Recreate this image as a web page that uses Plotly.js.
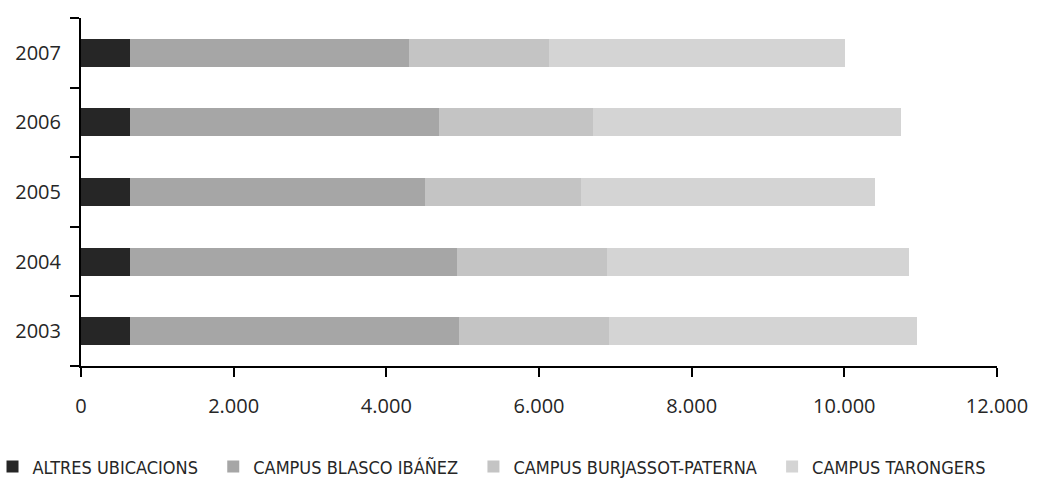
<!DOCTYPE html>
<html>
<head>
<meta charset="utf-8">
<script src="https://cdn.plot.ly/plotly-3.0.1.min.js"></script>
<style>
html,body{margin:0;padding:0;background:#fff;}
#chart{width:1039px;height:479px;}
</style>
</head>
<body>
<div id="chart"></div>
<script>
const years = ['2003', '2004', '2005', '2006', '2007'];
const seriesNames = ['ALTRES UBICACIONS', 'CAMPUS BLASCO IBÁÑEZ', 'CAMPUS BURJASSOT-PATERNA', 'CAMPUS TARONGERS'];
const altres = [640, 640, 640, 640, 640];
const blasco = [4310, 4285, 3865, 4050, 3655];
const burjassot = [1965, 1965, 2045, 2020, 1835];
const tarongers = [4035, 3955, 3850, 4035, 3880];
const xTicks = [0, 2000, 4000, 6000, 8000, 10000, 12000];
const xTickLabels = ['0', '2.000', '4.000', '6.000', '8.000', '10.000', '12.000'];
const colors = ['#262626', '#a6a6a6', '#c4c4c4', '#d4d4d4'];

// trailing non-breaking spaces only widen the gap between legend entries
const legendPads = [2, 2, 2, 0];
const values = [altres, blasco, burjassot, tarongers];
const traces = values.map((v, i) => ({
  type: 'bar',
  orientation: 'h',
  y: years,
  x: v,
  name: seriesNames[i] + '\u00a0'.repeat(legendPads[i]),
  marker: {color: colors[i], line: {width: 0}},
  hoverinfo: 'skip'
}));

const tickFont = {family: 'Open Sans, sans-serif', size: 20, color: '#262626'};

const layout = {
  width: 1039,
  height: 479,
  barmode: 'stack',
  bargap: 0.6,
  margin: {l: 81, r: 42, t: 18, b: 113, autoexpand: false},
  paper_bgcolor: '#ffffff',
  plot_bgcolor: '#ffffff',
  font: {family: 'Open Sans, sans-serif', size: 18, color: '#262626'},
  xaxis: {
    range: [0, 12000],
    tickvals: xTicks,
    ticktext: xTickLabels,
    ticks: 'outside',
    ticklen: 9,
    tickwidth: 2,
    tickcolor: '#000',
    showline: true,
    linecolor: '#000',
    linewidth: 2,
    showgrid: false,
    zeroline: false,
    automargin: false,
    ticklabelstandoff: 12,
    tickfont: tickFont,
    fixedrange: true
  },
  yaxis: {
    type: 'category',
    categoryorder: 'array',
    categoryarray: years,
    ticks: 'outside',
    tickson: 'boundaries',
    ticklen: 9,
    tickwidth: 2,
    tickcolor: '#000',
    showline: true,
    linecolor: '#000',
    linewidth: 2,
    showgrid: false,
    zeroline: false,
    automargin: false,
    ticklabelstandoff: 14,
    tickfont: tickFont,
    fixedrange: true
  },
  showlegend: true,
  legend: {
    orientation: 'h',
    x: -0.0966,
    xanchor: 'left',
    y: -0.29,
    yanchor: 'middle',
    traceorder: 'normal',
    font: {family: 'DejaVu Sans Condensed, DejaVu Sans, sans-serif', size: 18, color: '#262626'},
    bgcolor: 'rgba(0,0,0,0)'
  }
};

Plotly.newPlot('chart', traces, layout, {displayModeBar: false, staticPlot: true});
</script>
</body>
</html>
